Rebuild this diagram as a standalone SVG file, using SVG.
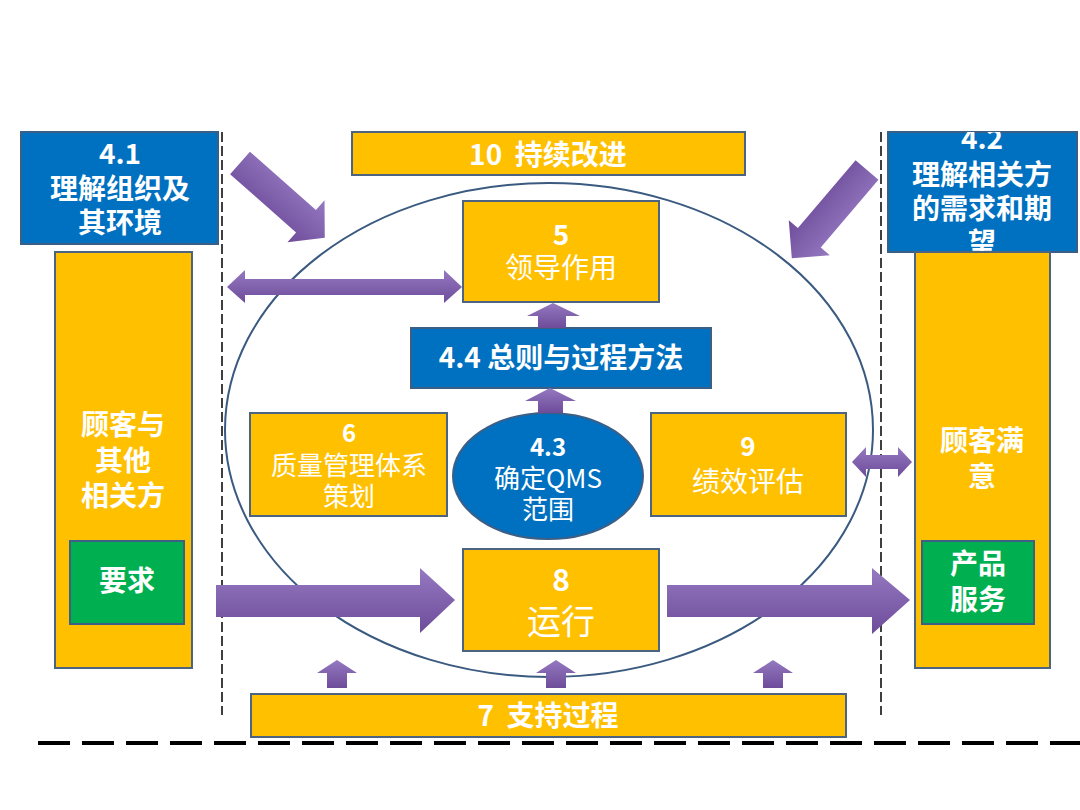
<svg xmlns="http://www.w3.org/2000/svg" width="1080" height="810" viewBox="0 0 1080 810">
<defs>
<style>
.y{fill:#FFC000;stroke:#4A6482;stroke-width:2}
.b{fill:#0070C0;stroke:#3C5F86;stroke-width:2}
.g{fill:#00B050;stroke:#3C5F86;stroke-width:2}
.t{font-family:"Noto Sans CJK SC","Liberation Sans",sans-serif;fill:#fff;font-size:28px;font-weight:bold;text-anchor:middle}
.n{font-weight:normal}
.ar{fill:url(#pg)}
.dl{stroke:#000;stroke-width:1.5;stroke-dasharray:10 4;fill:none}
</style>
<linearGradient id="pg" x1="0" y1="0" x2="0" y2="1">
<stop offset="0" stop-color="#9479C0"/>
<stop offset="1" stop-color="#6E4C9A"/>
</linearGradient>
<clipPath id="c42"><rect x="888" y="132" width="189" height="120"/></clipPath>
</defs>
<rect width="1080" height="810" fill="#fff"/>
<line class="dl" x1="222" y1="132" x2="222" y2="715"/>
<line class="dl" x1="881" y1="132" x2="881" y2="715"/>
<line x1="38" y1="743" x2="1080" y2="743" stroke="#000" stroke-width="4" stroke-dasharray="32 12"/>
<ellipse cx="549" cy="430" rx="324" ry="247" fill="none" stroke="#3A5A80" stroke-width="2"/>

<g id="n41"><rect class="b" x="21" y="132" width="197" height="112"/>
<text class="t" x="120" y="164">4.1</text><text class="t" x="120" y="199">理解组织及</text><text class="t" x="120" y="233">其环境</text></g>

<g id="n42"><rect class="b" x="888" y="132" width="189" height="120"/>
<g clip-path="url(#c42)"><text class="t" x="982" y="149">4.2</text><text class="t" x="982" y="185">理解相关方</text><text class="t" x="982" y="219">的需求和期</text><text class="t" x="982" y="253">望</text></g></g>

<g id="left"><rect class="y" x="55" y="252" width="137" height="416"/>
<text class="t" x="123" y="435">顾客与</text><text class="t" x="123" y="471">其他</text><text class="t" x="123" y="506">相关方</text></g>
<g id="req"><rect class="g" x="70" y="541" width="114" height="83"/><text class="t" x="127" y="591">要求</text></g>

<g id="right"><rect class="y" x="915" y="252" width="135" height="416"/>
<text class="t" x="982" y="451">顾客满</text><text class="t" x="982" y="487">意</text></g>
<g id="prod"><rect class="g" x="922" y="541" width="112" height="83"/><text class="t" x="978" y="574">产品</text><text class="t" x="978" y="610">服务</text></g>

<g id="n10"><rect class="y" x="352" y="132" width="393" height="43"/><text class="t" x="548" y="165" xml:space="preserve">10  持续改进</text></g>
<g id="n5"><rect class="y" x="463" y="201" width="196" height="101"/><text class="t" x="561" y="245">5</text><text class="t n" x="561" y="278">领导作用</text></g>
<g id="n44"><rect class="b" x="411" y="328" width="300" height="60"/><text class="t" x="561" y="368">4.4 总则与过程方法</text></g>
<g id="n6"><rect class="y" x="250" y="413" width="197" height="103"/><text class="t" x="349" y="442" style="font-size:24px">6</text><text class="t n" x="349" y="475" style="font-size:26px">质量管理体系</text><text class="t n" x="349" y="506" style="font-size:26px">策划</text></g>
<g id="n43"><ellipse cx="548" cy="476" rx="95" ry="63" fill="#0070C0" stroke="#3C5F86" stroke-width="2"/><text class="t" x="548" y="456" style="font-size:24px">4.3</text><text class="t n" x="548" y="488" style="font-size:26px">确定QMS</text><text class="t n" x="548" y="519" style="font-size:26px">范围</text></g>
<g id="n9"><rect class="y" x="651" y="413" width="195" height="103"/><text class="t" x="748" y="456" style="font-size:26px">9</text><text class="t n" x="748" y="492">绩效评估</text></g>
<g id="n8"><rect class="y" x="463" y="549" width="196" height="102"/><text class="t" x="561" y="591" style="font-size:30px">8</text><text class="t n" x="561" y="634" style="font-size:34px">运行</text></g>
<g id="n7"><rect class="y" x="251" y="694" width="595" height="43"/><text class="t" x="548" y="726" xml:space="preserve">7  支持过程</text></g>

<g id="connectors">
<polygon class="ar" transform="translate(240,163) rotate(41.4)" points="0,-15 88,-15 88,-28 113,0 88,28 88,15 0,15"/>
<polygon class="ar" transform="translate(867,170) rotate(130.4)" points="0,-15 89,-15 89,-27 116,0 89,27 89,15 0,15"/>
<polygon class="ar" points="227,287 245,270 245,279 444,279 444,270 462,287 444,303 444,295 245,295 245,303"/>
<polygon class="ar" points="852,462 866,447 866,455 898,455 898,447 912,462 898,477 898,469 866,469 866,477"/>
<polygon class="ar" points="216,585 420,585 420,568 455,600 420,633 420,617 216,617"/>
<polygon class="ar" points="667,585 872,585 872,568 910,600 872,634 872,617 667,617"/>
<polygon class="ar" points="538,328 538,316 527,316 553,303 580,316 566,316 566,328"/>
<polygon class="ar" points="538,413 538,401 525,401 550,388 576,401 563,401 563,413"/>
<polygon class="ar" points="327,688 327,673 317,673 337,660 357,673 347,673 347,688"/>
<polygon class="ar" points="546,688 546,673 536,673 556,660 576,673 566,673 566,688"/>
<polygon class="ar" points="763,688 763,673 753,673 773,660 793,673 783,673 783,688"/>
</g>
</svg>
